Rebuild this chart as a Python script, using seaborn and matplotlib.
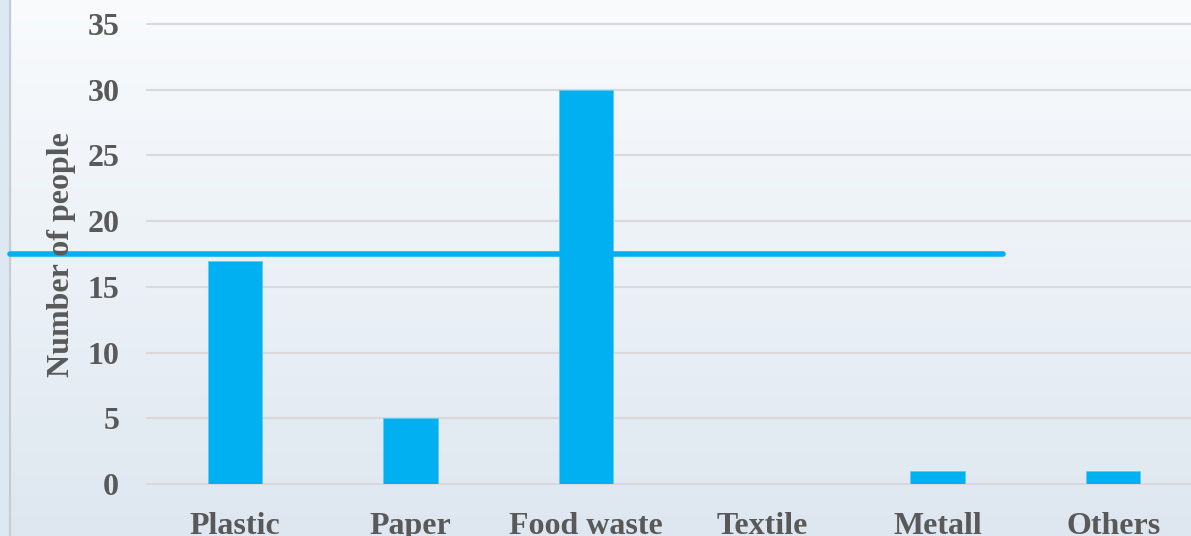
import numpy as np
import matplotlib
matplotlib.use("Agg")
import matplotlib.pyplot as plt
import seaborn as sns
import pandas as pd

categories = ["Plastic", "Paper", "Food waste", "Textile", "Metall", "Others"]
counts = [17, 5, 30, 0, 1, 1]
line_value = 17.5
y_ticks = [0, 5, 10, 15, 20, 25, 30, 35]

sns.set_theme(style="white")
plt.rcParams["font.family"] = ["Liberation Serif", "DejaVu Serif"]

W, H = 1191, 536
fig = plt.figure(figsize=(W / 100, H / 100), dpi=100)

# gradient background
bg = fig.add_axes([0, 0, 1, 1], zorder=-10)
top = np.array([249, 251, 253]) / 255
bot = np.array([222, 231, 240]) / 255
t = np.linspace(0, 1, 256)[:, None]
grad = (top[None, :] * (1 - t) + bot[None, :] * t)[:, None, :]
grad = np.repeat(grad, 2, axis=1)
bg.imshow(grad, aspect="auto", extent=[0, 1, 0, 1])
bg.axvspan(0, 10 / W, color="#DCE8F2")
bg.axvline(10 / W, color="#C8CCD0", lw=1.5)
bg.set_xlim(0, 1)
bg.set_ylim(0, 1)
bg.axis("off")

ax = fig.add_axes([147 / W, 52 / H, 1054 / W, 460 / H])
ax.patch.set_alpha(0)
df = pd.DataFrame({"category": categories, "count": counts})
sns.barplot(data=df, x="category", y="count", color="#00B0F0", saturation=1,
            width=0.31, ax=ax, zorder=3, edgecolor="#5CCBF5", linewidth=0.6)
ax.set_xlim(-0.5, 5.5)
ax.set_ylim(0, 35)
ax.set_yticks(y_ticks)
for y in y_ticks:
    ax.axhline(y, color="#D9D9D9", lw=1.5, zorder=1, clip_on=False)
ax.grid(False)
for s in ax.spines.values():
    s.set_visible(False)
ax.tick_params(axis="both", length=0, labelsize=23, labelcolor="#595959")
ax.tick_params(axis="y", pad=20)
ax.tick_params(axis="x", pad=20)
for lab in ax.get_xticklabels() + ax.get_yticklabels():
    lab.set_fontweight("bold")
ax.set_xlabel("")
ax.set_ylabel("")

ax.axhline(line_value, xmin=(10 - 147) / 1054, xmax=(1003 - 147) / 1054,
           color="#00B0F0", lw=4, clip_on=False, zorder=5)

fig.text(62 / W, 1 - 255 / H, "Number of people", rotation=90, ha="center",
         va="center", fontsize=23, fontweight="bold", color="#595959", zorder=10)

fig.savefig("out.png", dpi=100)
